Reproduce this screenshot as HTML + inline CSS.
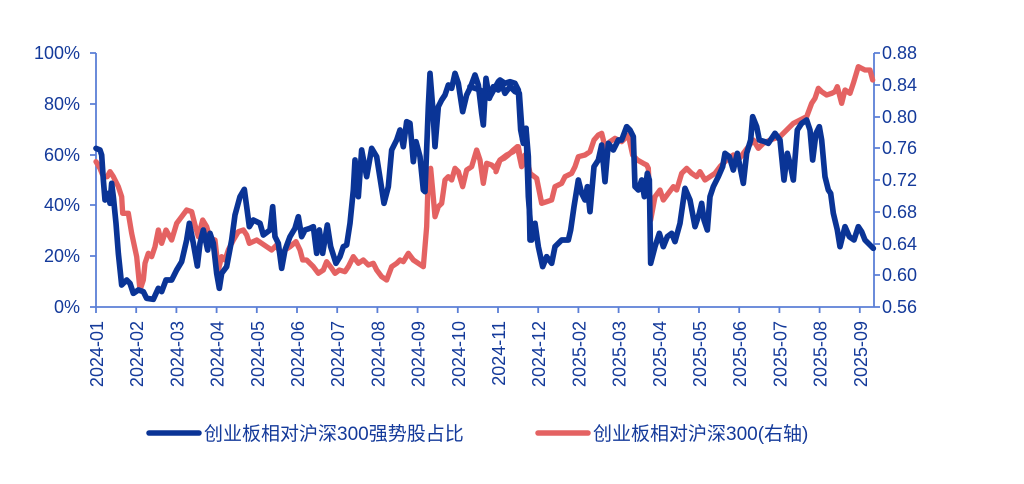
<!DOCTYPE html>
<html><head><meta charset="utf-8"><style>
html,body{margin:0;padding:0;background:#fff;}
svg{display:block;}
text{font-family:"Liberation Sans","Noto Sans CJK SC",sans-serif;fill:#143a9a;}
</style></head><body>
<svg width="1024" height="484" viewBox="0 0 1024 484">
<g stroke="#5b7fd6" stroke-width="1.8" fill="none">
<line x1="96" y1="53" x2="96" y2="307"/>
<line x1="874" y1="53" x2="874" y2="307"/>
<line x1="96" y1="307" x2="874" y2="307"/>
<path d="M90 53H96M90 104H96M90 155H96M90 205H96M90 256H96M90 307H96"/>
<path d="M874 53H880M874 85H880M874 117H880M874 148H880M874 180H880M874 212H880M874 244H880M874 275H880M874 307H880"/>
<path d="M96 307V313M136.2 307V313M176.4 307V313M216.6 307V313M256.8 307V313M297 307V313M337.2 307V313M377.4 307V313M417.6 307V313M457.8 307V313M498 307V313M538.2 307V313M578.4 307V313M618.6 307V313M658.8 307V313M699 307V313M739.2 307V313M779.4 307V313M819.6 307V313M859.8 307V313"/>
</g>
<g font-size="18" text-anchor="end">
<text x="80" y="59">100%</text><text x="80" y="110">80%</text><text x="80" y="161">60%</text><text x="80" y="211">40%</text><text x="80" y="262">20%</text><text x="80" y="313">0%</text>
</g>
<g font-size="18">
<text x="882" y="59">0.88</text><text x="882" y="91">0.84</text><text x="882" y="123">0.80</text><text x="882" y="154">0.76</text><text x="882" y="186">0.72</text><text x="882" y="218">0.68</text><text x="882" y="250">0.64</text><text x="882" y="281">0.60</text><text x="882" y="313">0.56</text>
</g>
<g font-size="18" text-anchor="end">
<text transform="translate(103,321) rotate(-90)">2024-01</text>
<text transform="translate(143.2,321) rotate(-90)">2024-02</text>
<text transform="translate(183.4,321) rotate(-90)">2024-03</text>
<text transform="translate(223.6,321) rotate(-90)">2024-04</text>
<text transform="translate(263.8,321) rotate(-90)">2024-05</text>
<text transform="translate(304,321) rotate(-90)">2024-06</text>
<text transform="translate(344.2,321) rotate(-90)">2024-07</text>
<text transform="translate(384.4,321) rotate(-90)">2024-08</text>
<text transform="translate(424.6,321) rotate(-90)">2024-09</text>
<text transform="translate(464.8,321) rotate(-90)">2024-10</text>
<text transform="translate(505,321) rotate(-90)">2024-11</text>
<text transform="translate(545.2,321) rotate(-90)">2024-12</text>
<text transform="translate(585.4,321) rotate(-90)">2025-02</text>
<text transform="translate(625.6,321) rotate(-90)">2025-03</text>
<text transform="translate(665.8,321) rotate(-90)">2025-04</text>
<text transform="translate(706,321) rotate(-90)">2025-05</text>
<text transform="translate(746.2,321) rotate(-90)">2025-06</text>
<text transform="translate(786.4,321) rotate(-90)">2025-07</text>
<text transform="translate(826.6,321) rotate(-90)">2025-08</text>
<text transform="translate(866.8,321) rotate(-90)">2025-09</text>
</g>
<g fill="none" stroke-linejoin="round" stroke-linecap="round">
<g transform="translate(80,40) scale(0.33333)" stroke="#e46262" stroke-width="16">
<polyline points="48,365 60,385 70,410 82,410 90,395 100,410 115,440 125,470 128,520 145,520 155,580 170,650 180,750 190,720 195,670 205,640 215,650 225,620 235,570 245,610 258,570 275,600 290,550 305,530 320,510 335,515 345,555 355,590 368,540 380,560 390,595 405,600 415,690 425,650 435,660 445,630 460,600 475,575 490,570 500,585 508,610 530,600 545,610 560,620 575,630 590,615 605,650 615,630 630,620 648,605 660,630 668,660 680,660 690,670 700,680 715,700 730,690 740,665 755,685 765,700 778,690 795,695 805,680 820,650 835,670 850,660 865,675 880,670 890,690 905,710 920,720 935,680 950,670 960,660 970,665 985,640 1000,660 1030,680 1040,560 1045,400 1052,385 1058,450 1065,530 1075,500 1085,490 1095,420 1105,410 1115,420 1125,385 1135,395 1148,440 1160,390 1175,380 1190,330 1200,360 1210,430 1220,370 1235,375 1245,385 1260,360 1272,355 1285,345 1300,330 1312,320 1325,380 1335,345 1348,395"/>
</g>
<g transform="translate(500,40) scale(0.33333)" stroke="#e46262" stroke-width="16">
<polyline points="-12,395 0,360 20,345 40,335 55,320 65,375 80,345 90,400 110,415 125,490 140,485 155,480 165,440 185,430 195,410 215,400 225,380 235,350 255,345 270,335 282,300 295,285 305,280 315,320 330,305 345,295 365,305 385,285 398,345 412,360 430,370 440,375 445,385 452,540 465,470 480,450 490,480 505,460 520,440 530,450 545,400 560,385 575,400 590,410 600,395 615,420 630,410 645,400 660,380 680,360 700,345 715,360 730,340 745,320 760,300 775,325 790,310 810,300 825,295 840,290 860,270 880,250 900,240 920,230 935,190 945,175 955,145 965,155 980,165 995,160 1005,155 1012,140 1025,190 1035,150 1050,160 1060,130 1075,80 1085,85 1095,90 1110,90 1118,120"/>
</g>
<g transform="translate(80,40) scale(0.33333)" stroke="#0a3496" stroke-width="17">
<polyline points="48,325 60,330 65,345 70,420 75,480 85,460 90,490 95,430 100,470 108,550 115,640 125,735 140,720 150,730 160,760 175,750 190,755 200,775 220,778 235,745 245,755 258,720 275,720 290,690 305,665 320,600 328,550 340,610 352,678 360,610 370,570 383,630 390,580 400,610 410,700 418,745 425,700 440,680 455,600 465,525 480,470 493,448 500,500 508,560 520,540 540,550 550,585 570,570 578,500 585,590 595,610 605,685 615,630 630,590 645,565 655,530 665,590 675,570 690,565 700,560 710,640 718,570 728,640 742,555 752,620 768,670 780,650 790,620 800,615 810,550 820,450 825,360 835,470 845,330 860,410 875,325 890,350 912,490 925,440 935,330 950,300 960,270 970,320 980,245 990,250 1000,365 1008,305 1020,350 1030,450 1035,455 1045,200 1050,100 1058,200 1065,320 1075,200 1085,180 1095,165 1105,135 1115,145 1125,100 1135,130 1148,215 1160,165 1172,140 1185,105 1195,135 1205,220 1210,255 1218,115 1228,175 1240,140 1255,150 1262,125 1275,160 1290,140 1305,155 1318,160 1328,300 1338,265 1345,350 1350,600"/>
</g>
<g transform="translate(500,40) scale(0.33333)" stroke="#0a3496" stroke-width="17">
<polyline points="-90,140 -60,150 -30,170 -5,125 0,120 15,130 30,125 45,130 55,150 62,270 70,310 78,265 85,470 95,600 105,550 115,620 128,680 140,650 155,670 165,620 185,600 205,600 212,570 222,500 235,420 245,460 255,480 262,440 270,515 282,380 295,360 305,315 315,425 325,310 340,330 355,300 365,300 380,260 390,270 400,290 405,440 415,450 425,420 433,470 442,400 448,420 452,670 465,620 478,580 490,620 502,590 515,580 525,605 540,550 555,445 570,480 585,560 598,520 605,490 612,540 622,570 630,470 640,440 655,410 668,380 675,340 688,350 700,390 712,340 722,390 730,430 740,340 752,300 758,230 770,260 778,300 795,305 805,310 825,280 840,300 852,420 862,340 870,370 880,420 892,270 905,250 920,240 930,270 938,360 948,280 958,260 965,300 975,410 985,450 992,460 1000,520 1012,570 1020,620 1030,580 1035,560 1048,590 1062,600 1075,560 1085,575 1095,600 1110,615 1120,625"/>
</g>
</g>
<line x1="149" y1="433" x2="199" y2="433" stroke="#0a3496" stroke-width="5.5" stroke-linecap="round"/>
<text x="204" y="440" font-size="19">创业板相对沪深300强势股占比</text>
<line x1="538" y1="433" x2="588" y2="433" stroke="#e46262" stroke-width="5.5" stroke-linecap="round"/>
<text x="593" y="440" font-size="19">创业板相对沪深300(右轴)</text>
</svg>
</body></html>
